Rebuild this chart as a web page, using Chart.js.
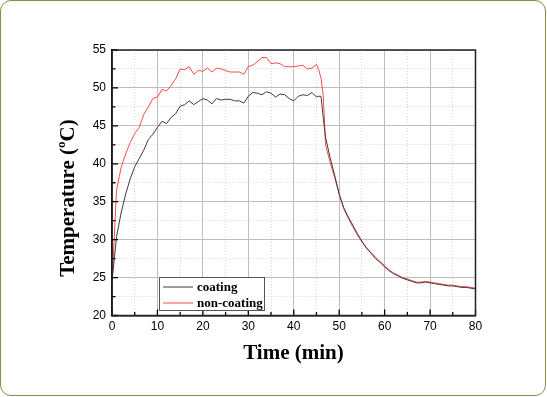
<!DOCTYPE html>
<html>
<head>
<meta charset="utf-8">
<script src="https://cdn.jsdelivr.net/npm/chart.js@4"></script>
<style>
  html, body { margin: 0; padding: 0; background: #fff; }
  #wrap { position: relative; width: 547px; height: 397px; }
  #frame {
    position: absolute; left: 0; top: 0; width: 544px; height: 394px;
    border: 1.5px solid #928845; border-radius: 11px; pointer-events: none;
  }
  canvas { position: absolute; left: 0; top: 0; }
</style>
</head>
<body>
<div id="wrap">
  <canvas id="tempChart" width="547" height="397"></canvas>
  <div id="frame"></div>
</div>
<script>
// time (min)
const time = [0, 1, 2, 3, 4, 5, 6, 7, 8, 9, 10, 11, 12, 13, 14, 15, 16, 17, 18, 19,
  20, 21, 22, 23, 24, 25, 26, 27, 28, 29, 30, 31, 32, 33, 34, 35, 36, 37, 38, 39,
  40, 41, 42, 43, 44, 45, 45.5, 46, 46.5, 47, 48, 49, 50, 51, 52, 53, 54, 55, 56, 57,
  58, 59, 60, 61, 62, 63, 64, 65, 66, 67, 68, 69, 70, 71, 72, 73, 74, 75, 76, 77,
  78, 79, 80];

// temperature readings (oC)
const coating = [24.5, 30.4, 33.5, 36.0, 38.0, 39.6, 40.7, 41.8, 43.2, 43.9, 44.8, 45.6, 45.3, 46.1, 46.6, 47.6, 47.8, 48.3, 47.8, 48.2,
  48.6, 48.4, 47.9, 48.6, 48.4, 48.5, 48.5, 48.3, 48.3, 48.0, 48.9, 49.4, 49.3, 49.1, 49.5, 49.3, 48.8, 49.2, 49.1, 48.6,
  48.3, 48.9, 49.1, 49.0, 49.4, 48.8, 48.9, 48.9, 46.0, 43.5, 40.8, 38.5, 36.0, 34.2, 33.0, 31.9, 30.8, 29.8, 28.9, 28.2,
  27.5, 27.0, 26.4, 25.9, 25.5, 25.2, 24.9, 24.7, 24.5, 24.3, 24.3, 24.4, 24.3, 24.2, 24.1, 24.0, 23.9, 23.9, 23.8, 23.7,
  23.7, 23.6, 23.5];

const nonCoating = [24.2, 36.5, 39.5, 41.3, 42.8, 44.0, 44.8, 46.5, 47.5, 48.6, 48.8, 49.8, 49.6, 50.3, 51.2, 52.5, 52.4, 52.8, 51.8, 52.3,
  52.2, 52.6, 52.1, 52.6, 52.5, 52.3, 52.1, 52.1, 52.1, 51.8, 52.8, 53.0, 53.5, 54.0, 54.0, 53.2, 53.3, 53.2, 52.8, 52.8,
  52.8, 52.9, 53.0, 52.5, 52.6, 53.1, 52.4, 51.3, 49.0, 42.5, 40.2, 38.2, 36.0, 34.1, 32.8, 31.7, 30.6, 29.7, 28.9, 28.3,
  27.7, 27.1, 26.6, 26.0, 25.6, 25.3, 25.0, 24.8, 24.6, 24.4, 24.4, 24.5, 24.4, 24.3, 24.2, 24.1, 24.0, 24.0, 23.9, 23.8,
  23.8, 23.7, 23.6];

const xTicks = [0, 10, 20, 30, 40, 50, 60, 70, 80];
const yTicks = [20, 25, 30, 35, 40, 45, 50, 55];

const serif = '"Liberation Serif", "Times New Roman", serif';
const sans = '"Liberation Sans", Arial, sans-serif';

function toPoints(ys) {
  return time.map((t, i) => ({ x: t, y: ys[i] }));
}

// axis titles, frame box, inner ticks and legend
const decor = {
  id: 'decor',
  afterDraw(chart) {
    const c = chart.ctx;
    const a = chart.chartArea;
    const xs = chart.scales.x;
    const ys = chart.scales.y;
    c.save();

    // ticks pointing inwards
    c.strokeStyle = '#000';
    c.lineWidth = 1.3;
    c.beginPath();
    xs.ticks.forEach(t => {
      const px = xs.getPixelForValue(t.value);
      const len = xTicks.includes(t.value) ? 6 : 3.5;
      c.moveTo(px, a.bottom);
      c.lineTo(px, a.bottom - len);
    });
    ys.ticks.forEach(t => {
      const py = ys.getPixelForValue(t.value);
      const len = yTicks.includes(t.value) ? 6 : 3.5;
      c.moveTo(a.left, py);
      c.lineTo(a.left + len, py);
    });
    c.stroke();

    // box
    c.lineWidth = 1.5;
    c.strokeStyle = '#222';
    c.strokeRect(a.left, a.top, a.right - a.left, a.bottom - a.top);

    // x title
    c.fillStyle = '#000';
    c.font = 'bold 21px ' + serif;
    c.textAlign = 'center';
    c.textBaseline = 'alphabetic';
    c.fillText('Time (min)', 293.5, 359);

    // y title with superscript o
    c.translate(74, 198);
    c.rotate(-Math.PI / 2);
    const p1 = 'Temperature (';
    const p2 = 'C)';
    c.font = 'bold 21px ' + serif;
    const w1 = c.measureText(p1).width;
    const w3 = c.measureText(p2).width;
    c.font = 'bold 13px ' + serif;
    const w2 = c.measureText('o').width;
    const start = -(w1 + w2 + w3) / 2;
    c.textAlign = 'left';
    c.font = 'bold 21px ' + serif;
    c.fillText(p1, start, 0);
    c.font = 'bold 13px ' + serif;
    c.fillText('o', start + w1, -9);
    c.font = 'bold 21px ' + serif;
    c.fillText(p2, start + w1 + w2, 0);
    c.setTransform(1, 0, 0, 1, 0, 0);

    // legend
    c.fillStyle = '#fff';
    c.fillRect(159.5, 277.5, 105, 33);
    c.strokeStyle = '#555';
    c.lineWidth = 1;
    c.strokeRect(159.5, 277.5, 105, 33);
    c.font = 'bold 13px ' + serif;
    c.textAlign = 'left';
    c.textBaseline = 'middle';
    chart.data.datasets.forEach((ds, i) => {
      const y = 287 + i * 16;
      c.strokeStyle = ds.borderColor;
      c.lineWidth = 1;
      c.beginPath();
      c.moveTo(163, y);
      c.lineTo(193, y);
      c.stroke();
      c.fillStyle = '#000';
      c.fillText(ds.label, 197, y + 0.5);
    });
    c.restore();
  }
};

new Chart(document.getElementById('tempChart').getContext('2d'), {
  type: 'line',
  data: {
    datasets: [{
      label: 'coating',
      data: toPoints(coating),
      borderColor: '#3c3c3c',
      borderWidth: 1,
      pointRadius: 0,
      tension: 0
    }, {
      label: 'non-coating',
      data: toPoints(nonCoating),
      borderColor: '#ff4a4a',
      borderWidth: 1,
      pointRadius: 0,
      tension: 0
    }]
  },
  options: {
    responsive: false,
    animation: false,
    layout: { padding: { left: 0, top: 50, right: 71.5, bottom: 0 } },
    plugins: {
      legend: { display: false },
      tooltip: { enabled: false }
    },
    scales: {
      x: {
        type: 'linear',
        min: 0,
        max: 80,
        afterFit: s => { s.height = 81.5; },
        ticks: {
          stepSize: 5,
          autoSkip: false,
          maxRotation: 0,
          padding: 4,
          color: '#000',
          font: { family: sans, size: 12 },
          callback: v => xTicks.includes(v) ? v : ''
        },
        grid: {
          drawTicks: false,
          color: ctx => ctx.tick && xTicks.includes(ctx.tick.value) ? '#bdbdbd' : '#d4d4d4',
          lineWidth: 1
        },
        border: {
          display: true,
          color: '#000',
          width: 1.5,
          dash: ctx => ctx.tick && !xTicks.includes(ctx.tick.value) ? [1, 2] : []
        }
      },
      y: {
        min: 20,
        max: 55,
        afterFit: s => { s.width = 112; },
        ticks: {
          stepSize: 2.5,
          autoSkip: false,
          padding: 6,
          color: '#000',
          font: { family: sans, size: 12 },
          callback: v => yTicks.includes(v) ? v : ''
        },
        grid: {
          drawTicks: false,
          color: ctx => ctx.tick && yTicks.includes(ctx.tick.value) ? '#bdbdbd' : '#d4d4d4',
          lineWidth: 1
        },
        border: {
          display: true,
          color: '#000',
          width: 1.5,
          dash: ctx => ctx.tick && !yTicks.includes(ctx.tick.value) ? [1, 2] : []
        }
      }
    }
  },
  plugins: [decor]
});
</script>
</body>
</html>
